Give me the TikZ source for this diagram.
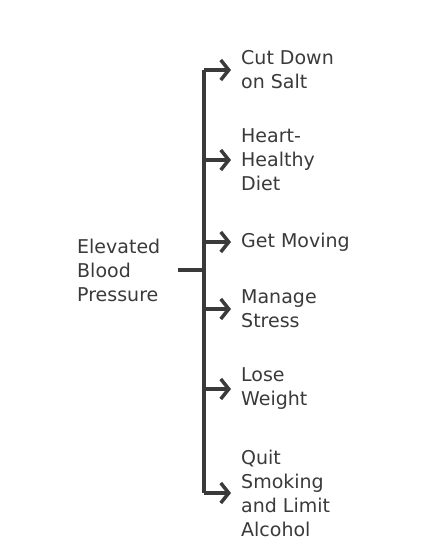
\documentclass[tikz,border=0pt]{standalone}
\usepackage{fontspec}
\setmainfont{DejaVu Sans}
\usepackage{tikz}
\usetikzlibrary{arrows.meta}
\definecolor{ink}{HTML}{3A3A3A}
\tikzset{branch/.style={draw=ink,line width=3.5pt,-{Straight Barb[length=8pt,width=20pt,line width=3.5pt]}}}

\begin{document}
\begin{tikzpicture}[x=1pt,y=-1pt,
    every node/.style = {anchor=west, align=left, inner sep=0pt,
      text=ink, font=\fontsize{19}{24}\selectfont}]
    \useasboundingbox (0,0) rectangle (432,550);
    \node (bp) at (77,270) {Elevated\\Blood\\Pressure};
    \node (salt) at (241,70) {Cut Down\\on Salt};
    \node (diet) at (241,160) {Heart-\\Healthy\\Diet};
    \node (move) at (241,242) {Get Moving};
    \node (stress) at (241,309) {Manage\\Stress};
    \node (weight) at (241,389) {Lose\\Weight};
    \node (quit) at (241,493) {Quit\\Smoking\\and Limit\\Alcohol};
    \coordinate (hub) at (204,270);
    \draw[ink, line width=3.5pt] ([xshift=18pt]bp.east) -- (hub);
    \draw[ink, line width=3.5pt] (hub |- salt.west) -- (hub |- quit.west);
    \foreach \n in {salt,diet,move,stress,weight,quit}
      \draw[branch] (hub |- \n.west) -- ([xshift=-10pt]\n.west);
  \end{tikzpicture}
\end{document}
